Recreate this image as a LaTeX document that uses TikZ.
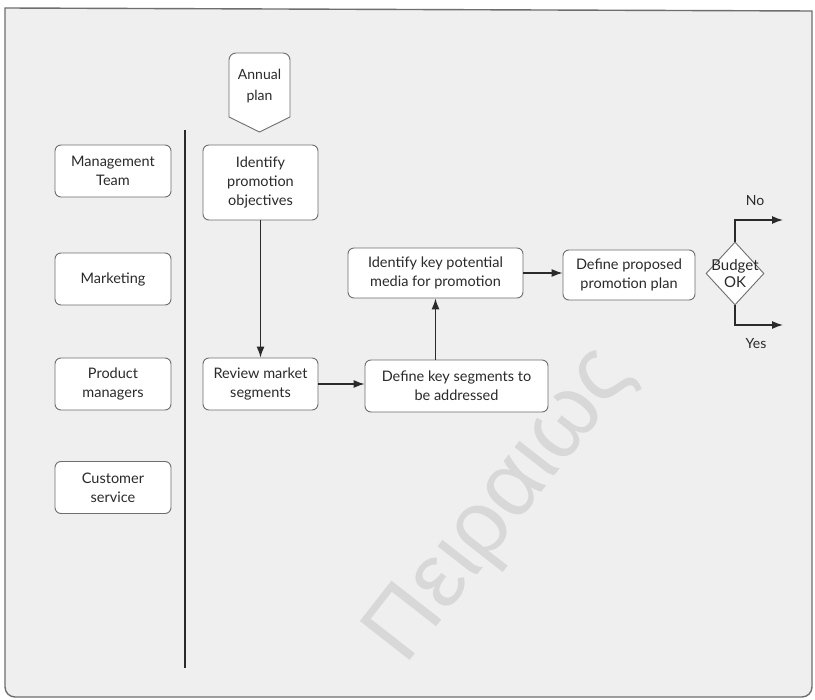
\documentclass[tikz,border=0pt]{standalone}
\usepackage{fontspec}
\setmainfont{Lato}
\newfontfamily\markfont{Liberation Sans}
\usetikzlibrary{arrows.meta,shapes.geometric}
\definecolor{panel}{HTML}{EFEFEF}
\definecolor{edge}{HTML}{6E6E6E}
\definecolor{ink}{HTML}{2A2A2A}
\definecolor{mark}{HTML}{D8D8D8}
\tikzset{
  proc/.style={draw=edge, line width=0.9pt, fill=white, rounded corners=6pt,
    align=center, text=ink, inner sep=2pt,
    font=\fontsize{14.5}{19}\selectfont},
  flow/.style={draw=ink, line width=1.3pt, -{Latex[length=11pt,width=8pt]}},
  tag/.style={text=ink, font=\fontsize{14}{17}\selectfont}
}
\begin{document}
\begin{tikzpicture}[x=1pt,y=-1pt]
\useasboundingbox (0,0) rectangle (815,700);
% outer panel
\fill[white] (0,0) rectangle (815,700);
\draw[edge, line width=1.4pt, fill=panel]
  (5,8) -- (812,11) [rounded corners=10pt] -- (812,697) -- (5,697) [sharp corners] -- cycle;

% watermark
\node[text=mark, rotate=52, inner sep=0pt, font=\markfont\fontsize{92}{92}\selectfont] (wm) at (500,505) {Πειραιώς};

% lane divider
\coordinate (laneTop) at (185,130);
\coordinate (laneBot) at (185,668);
\draw[ink, line width=1.1pt] (laneTop) -- (laneBot);

% actors
\node[proc, minimum width=116, minimum height=52] (mgmt) at (113,171) {Management\\Team};
\node[proc, minimum width=116, minimum height=52] (mkt) at (113,279) {Marketing};
\node[proc, minimum width=116, minimum height=52] (pm) at (113,384) {Product\\managers};
\node[proc, minimum width=116, minimum height=52] (cs) at (113,487.5) {Customer\\service};

% annual plan (off-page connector)
\draw[edge, line width=0.9pt, fill=white]
  (229,117) [rounded corners=7pt] -- (229,53) -- (290,53) [sharp corners] -- (290,117) -- (259.5,132) -- cycle;
\node[tag, align=center, font=\fontsize{14}{21}\selectfont] (plan) at (259.5,86) {Annual\\plan};

% process steps
\node[proc, minimum width=115, minimum height=75] (ipo) at (260.5,182.5) {Identify\\promotion\\objectives};
\node[proc, minimum width=115, minimum height=52] (rms) at (260.5,384) {Review market\\segments};
\node[proc, minimum width=183, minimum height=52] (dks) at (456.5,386) {Define key segments to\\be addressed};
\node[proc, minimum width=175, minimum height=50] (ikp) at (435.5,273) {Identify key potential\\media for promotion};
\node[proc, minimum width=132, minimum height=50] (dpp) at (629,275) {Define proposed\\promotion plan};

% decision
\node[diamond, draw=edge, line width=0.9pt, fill=white, minimum width=58, minimum height=63, inner sep=0pt] (bud) at (735,273.5) {};
\node[tag, align=center, font=\fontsize{15}{17}\selectfont] (budtxt) at (bud) {Budget\\OK};
\coordinate (noEnd) at (783,220);
\coordinate (yesEnd) at (783,325);
\node[tag] (no) at (755,201) {No};
\node[tag] (yes) at (756,344) {Yes};

% connectors
\draw[flow] (ipo.south) -- (rms.north);
\draw[flow] (rms.east) -- (rms.east -| dks.west);
\draw[flow] (ikp.south |- dks.north) -- (ikp.south);
\draw[flow] (ikp.east) -- (ikp.east -| dpp.west);
\draw[flow] (bud.north) |- (noEnd);
\draw[flow] (bud.south) |- (yesEnd);
\end{tikzpicture}
\end{document}
